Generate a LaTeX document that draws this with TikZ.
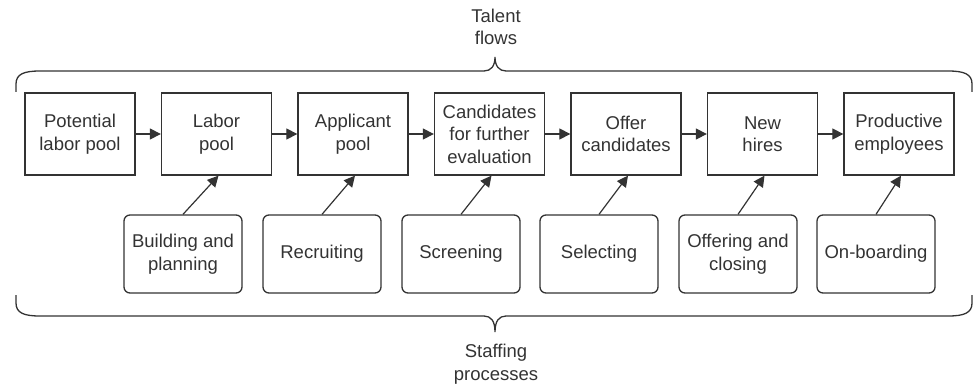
\documentclass[tikz,border=0pt]{standalone}
\usepackage{fontspec}
\setmainfont{Liberation Sans}
\usetikzlibrary{arrows.meta}
\definecolor{ink}{gray}{0.2}
\begin{document}
\begin{tikzpicture}[x=1pt,y=-1pt,
  every node/.style={font=\fontsize{18.5}{22.5}\selectfont, text=ink},
  flowbox/.style={draw=ink, line width=1.3pt, minimum width=110pt, minimum height=82pt,
    align=center, inner sep=0pt},
  procbox/.style={draw=ink, line width=1.3pt, rounded corners=6pt, minimum width=118pt,
    minimum height=78pt, align=center, inner sep=0pt},
  flowarrow/.style={draw=ink, line width=1.2pt, -{Triangle[length=11pt,width=11pt]}},
  bracket/.style={draw=ink, line width=1.3pt},
  caption/.style={align=center}]
\useasboundingbox (0,0) rectangle (973,385);

% talent flows (top row)
\node[flowbox] (t1) at (80,134)    {Potential\\labor pool};
\node[flowbox] (t2) at (216.5,134) {Labor\\pool};
\node[flowbox] (t3) at (353,134)   {Applicant\\pool};
\node[flowbox] (t4) at (489.5,134) {Candidates\\for further\\evaluation};
\node[flowbox] (t5) at (626,134)   {Offer\\candidates};
\node[flowbox] (t6) at (762.5,134) {New\\hires};
\node[flowbox] (t7) at (899,134)   {Productive\\employees};

\foreach \a/\b in {t1/t2,t2/t3,t3/t4,t4/t5,t5/t6,t6/t7}
  \draw[flowarrow] (\a.east) -- (\b.west);

% staffing processes (bottom row)
\node[procbox] (p1) at (183,254) {Building and\\planning};
\node[procbox] (p2) at (322,254) {Recruiting};
\node[procbox] (p3) at (461,254) {Screening};
\node[procbox] (p4) at (599,254) {Selecting};
\node[procbox] (p5) at (738,254) {Offering and\\closing};
\node[procbox] (p6) at (876,254) {On-boarding};

\foreach \p/\t in {p1/t2,p2/t3,p3/t4,p4/t5,p5/t6,p6/t7}
  \draw[flowarrow] (\p.north) -- ([xshift=2pt]\t.south);

% upper brace
\draw[bracket] (16,92) -- (16,84) .. controls (16,74) and (24,71) .. (40,71)
  -- (484,71) .. controls (491,71) and (495,66) .. (495,57)
  .. controls (495,66) and (499,71) .. (506,71)
  -- (948,71) .. controls (964,71) and (972,74) .. (972,84) -- (972,92);
% lower brace
\draw[bracket] (16,295) -- (16,303) .. controls (16,313) and (24,316) .. (40,316)
  -- (484,316) .. controls (491,316) and (495,321) .. (495,332)
  .. controls (495,321) and (499,316) .. (506,316)
  -- (948,316) .. controls (964,316) and (972,313) .. (972,303) -- (972,295);

% brace captions (anchored at the baseline of their last line)
\node[caption, anchor=base] (tf) at (496,45) {Talent\\flows};
\node[caption, anchor=base] (sp) at (496,380) {Staffing\\processes};
\end{tikzpicture}
\end{document}
